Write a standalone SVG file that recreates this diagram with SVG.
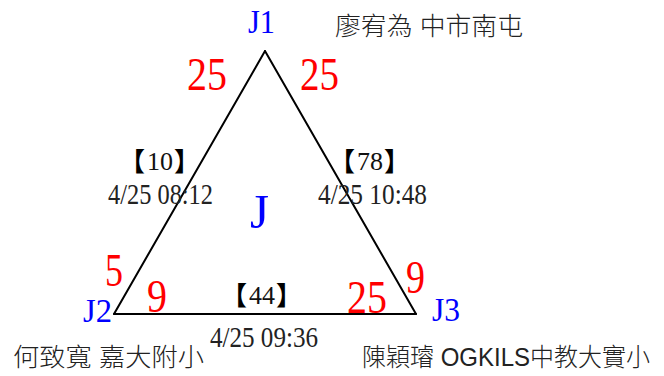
<svg xmlns="http://www.w3.org/2000/svg" width="664" height="376" viewBox="0 0 664 376">
<style>
.edge{stroke:#000;stroke-width:2;fill:none;stroke-linecap:round}
.node{font-family:"Liberation Serif",serif;fill:#0000ff;font-size:33px}
.num{font-family:"Liberation Serif",serif;fill:#ff0000;font-size:46px}
.dig{font-family:"Liberation Serif",serif;fill:#111;font-size:26px}
.br{font-family:"Noto Sans CJK TC",sans-serif;fill:#000;font-size:26px;font-weight:700}
.time{font-family:"Liberation Serif",serif;fill:#222;font-size:30px}
.name{font-family:"Liberation Sans","Noto Sans CJK TC",sans-serif;fill:#222;font-size:25px;font-weight:300}
</style>
<rect width="664" height="376" fill="#fff"/>
<g id="connectors">
<line class="edge" x1="265" y1="51" x2="114" y2="314"/>
<line class="edge" x1="265" y1="51" x2="416" y2="314"/>
<line class="edge" x1="114" y1="314" x2="416" y2="314"/>
<g id="label-J1-J2">
<text class="br" x="119" y="171">【</text>
<text class="dig" x="147" y="170" textLength="26" lengthAdjust="spacingAndGlyphs">10</text>
<text class="br" x="174" y="171">】</text>
<text class="time" x="108" y="204" textLength="105" lengthAdjust="spacingAndGlyphs">4/25 08:12</text>
</g>
<g id="label-J1-J3">
<text class="br" x="329" y="171">【</text>
<text class="dig" x="357" y="170" textLength="26" lengthAdjust="spacingAndGlyphs">78</text>
<text class="br" x="384" y="171">】</text>
<text class="time" x="318" y="204" textLength="109" lengthAdjust="spacingAndGlyphs">4/25 10:48</text>
</g>
<g id="label-J2-J3">
<text class="br" x="221" y="305">【</text>
<text class="dig" x="249" y="304" textLength="26" lengthAdjust="spacingAndGlyphs">44</text>
<text class="br" x="276" y="305">】</text>
<text class="time" x="210" y="347" textLength="108" lengthAdjust="spacingAndGlyphs">4/25 09:36</text>
</g>
</g>
<g id="J">
<text class="node" x="250" y="228" style="font-size:48px" textLength="19" lengthAdjust="spacingAndGlyphs">J</text>
</g>
<g id="J1">
<text class="node" x="248" y="33" textLength="27" lengthAdjust="spacingAndGlyphs">J1</text>
<text class="name" x="335" y="35" textLength="188" lengthAdjust="spacingAndGlyphs">廖宥為 中市南屯</text>
<text class="num" x="187" y="90" textLength="40" lengthAdjust="spacingAndGlyphs">25</text>
<text class="num" x="300" y="90" textLength="39" lengthAdjust="spacingAndGlyphs">25</text>
</g>
<g id="J2">
<text class="node" x="83" y="322" textLength="29" lengthAdjust="spacingAndGlyphs">J2</text>
<text class="name" x="13" y="366" textLength="191" lengthAdjust="spacingAndGlyphs">何致寬 嘉大附小</text>
<text class="num" x="105" y="286" textLength="18" lengthAdjust="spacingAndGlyphs">5</text>
<text class="num" x="147" y="312" textLength="20" lengthAdjust="spacingAndGlyphs">9</text>
</g>
<g id="J3">
<text class="node" x="432" y="321" textLength="28" lengthAdjust="spacingAndGlyphs">J3</text>
<text class="name" x="362" y="366" textLength="288" lengthAdjust="spacingAndGlyphs">陳穎璿 OGKILS中教大實小</text>
<text class="num" x="347" y="313" textLength="40" lengthAdjust="spacingAndGlyphs">25</text>
<text class="num" x="406" y="293" textLength="19" lengthAdjust="spacingAndGlyphs">9</text>
</g>
</svg>
